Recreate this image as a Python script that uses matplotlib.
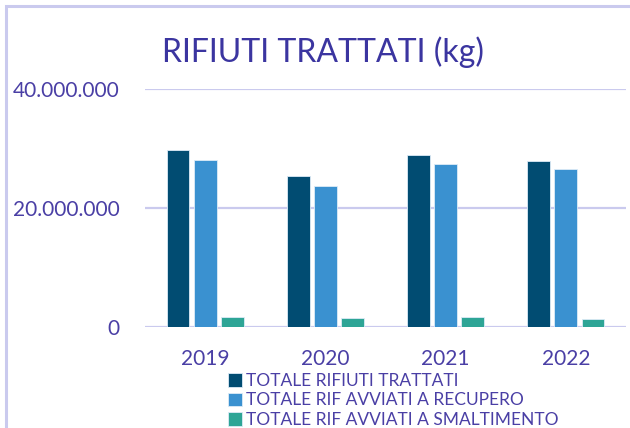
import numpy as np
import matplotlib.pyplot as plt
from matplotlib.ticker import FuncFormatter
from matplotlib.patches import Rectangle

# data
years = ['2019', '2020', '2021', '2022']
totale_trattati = [29.75e6, 25.3e6, 28.9e6, 27.85e6]
totale_recupero = [28.05e6, 23.7e6, 27.4e6, 26.5e6]
totale_smaltimento = [1.7e6, 1.45e6, 1.7e6, 1.3e6]
series_labels = ['TOTALE RIFIUTI TRATTATI',
                 'TOTALE RIF AVVIATI A RECUPERO',
                 'TOTALE RIF AVVIATI A SMALTIMENTO']
y_ticks = [0, 20e6, 40e6]

colors = ['#014C72', '#3A91D0', '#2EA596']
text_col = '#4A3FA5'
grid_col = '#CACAEE'

plt.rcParams['font.family'] = ['Lato', 'DejaVu Sans']

fig = plt.figure(figsize=(6.3, 4.28), dpi=100)

# outer chart border (left and top only visible)
fig.patches.append(Rectangle((6 / 630, -0.1), 1.2, (1 - 6 / 428) + 0.1,
                             transform=fig.transFigure, fill=False,
                             edgecolor=grid_col, linewidth=2.2))

ax = fig.add_axes([145 / 630, 1 - 327 / 428, 481 / 630, (327 - 89) / 428])

x = np.arange(len(years))
step = 0.225
width = 0.19
handles = []
for i, vals in enumerate([totale_trattati, totale_recupero, totale_smaltimento]):
    b = ax.bar(x + (i - 1) * step, vals, width, color=colors[i],
               edgecolor='#DDEBF7', linewidth=0.6, zorder=3)
    handles.append(b)

ax.set_xlim(-0.5, len(years) - 0.5)
ax.set_ylim(0, 40e6)
ax.set_yticks(y_ticks)
ax.yaxis.set_major_formatter(FuncFormatter(lambda v, p: f'{int(v):,}'.replace(',', '.')))
ax.set_xticks(x)
ax.set_xticklabels(years)
ax.grid(axis='y', color=grid_col, linewidth=1.6, zorder=0)
for s in ax.spines.values():
    s.set_visible(False)
ax.tick_params(axis='y', length=0, pad=18, labelsize=15, labelcolor=text_col)
ax.tick_params(axis='x', length=0, pad=16, labelsize=15, labelcolor=text_col)

fig.text(323 / 630, 1 - 52 / 428, 'RIFIUTI TRATTATI (kg)', ha='center', va='center',
         fontsize=23, color='#3B35A0')

fig.legend(handles, series_labels, loc='upper left',
           bbox_to_anchor=(228 / 630, 1 - 373 / 428), frameon=False,
           fontsize=12.5, labelcolor=text_col, handlelength=0.8, handleheight=0.8,
           handletextpad=0.25, labelspacing=0.2, borderpad=0, borderaxespad=0)

fig.savefig('out.png', dpi=100)
